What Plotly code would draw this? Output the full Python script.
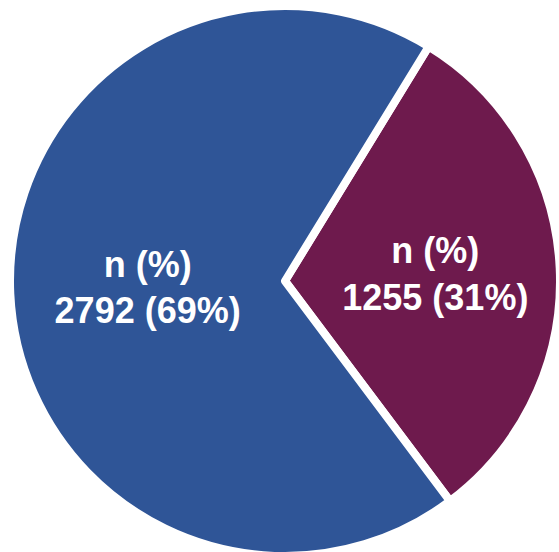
import plotly.graph_objects as go

labels = ["Group B", "Group A"]
counts = [1255, 2792]
percents = [31, 69]
colors = ["#6E1A4D", "#2F5597"]

W, H = 580, 565
cx, cy, r = 285, 281, 275

fig = go.Figure(go.Pie(
    labels=labels,
    values=counts,
    customdata=percents,
    sort=False,
    direction="clockwise",
    rotation=31.5,
    marker=dict(colors=colors, line=dict(color="white", width=8)),
    texttemplate="n (%)<br>%{value} (%{customdata}%)",
    textposition="inside",
    insidetextorientation="horizontal",
    insidetextfont=dict(family="Liberation Sans, Arial", size=36, color="white", weight="bold"),
    hoverinfo="none",
    showlegend=False,
    domain=dict(x=[(cx - r) / W, (cx + r) / W], y=[1 - (cy + r) / H, 1 - (cy - r) / H]),
))

fig.update_layout(
    width=W, height=H,
    margin=dict(l=0, r=0, t=0, b=0),
    paper_bgcolor="white",
    plot_bgcolor="white",
)

fig.write_html("out.html")
